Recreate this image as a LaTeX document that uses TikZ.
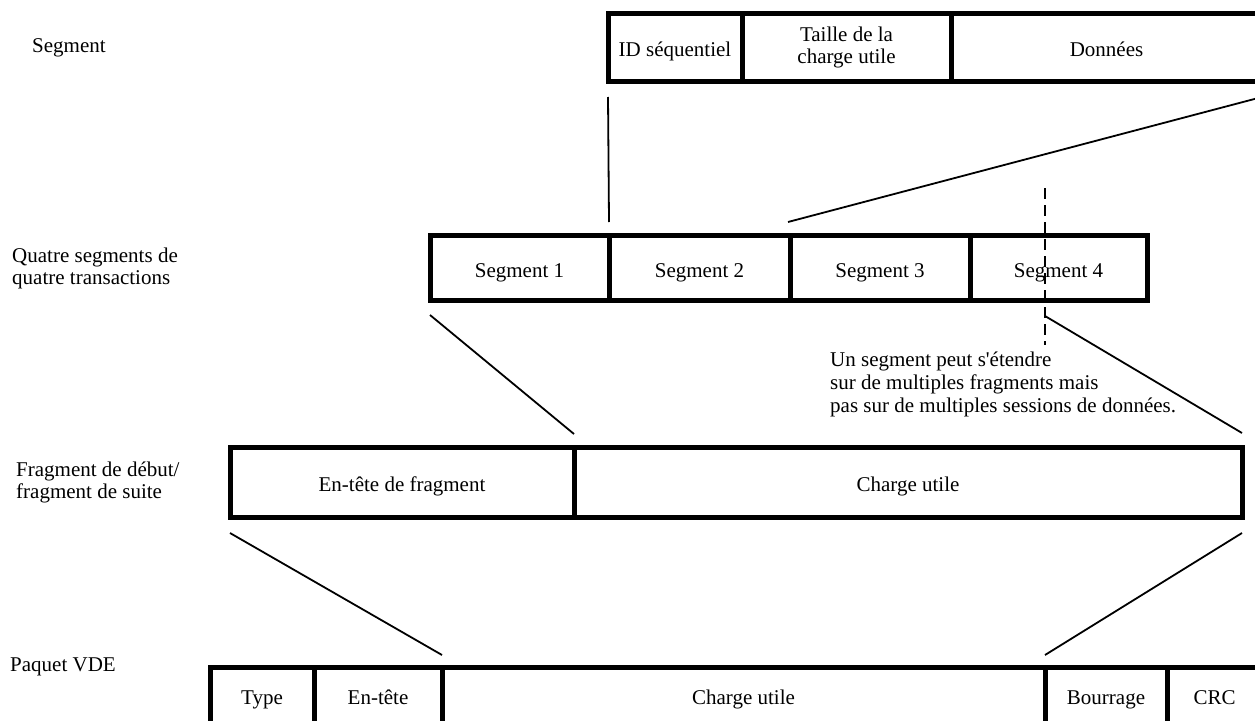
\documentclass[tikz,border=0pt]{standalone}
\usepackage{fontspec}
\setmainfont{Liberation Serif}
\newfontfamily\notefont{Liberation Serif}
\usepackage{tikz}
\usetikzlibrary{positioning}

\begin{document}
\begin{tikzpicture}[x=1pt,y=-1pt,
  cellbox/.style={draw, line width=5pt, rectangle, outer sep=0pt, inner sep=0pt,
    align=center, font=\fontsize{21}{22}\selectfont},
  cell/.style={cellbox, text height=21pt, text depth=2pt},
  link/.style={line width=1.8pt},
  rowlabel/.style={align=left, inner sep=0pt, font=\fontsize{21}{22}\selectfont}]
\useasboundingbox (0,0) rectangle (1255,720);

% Segment
\node[cell, anchor=north west, minimum width=134pt, minimum height=68pt] (segid) at (608,13) {ID séquentiel};
\node[cellbox, right=0pt of segid, minimum width=209pt, minimum height=68pt] (segsize) {Taille de la\\charge utile};
\node[cell, right=0pt of segsize, minimum width=311pt, minimum height=68pt] (segdata) {Données};

% quatre segments
\node[cell, anchor=north west, minimum width=179pt, minimum height=65pt] (seg1) at (430,235) {Segment 1};
\node[cell, right=0pt of seg1, minimum width=181pt, minimum height=65pt] (seg2) {Segment 2};
\node[cell, right=0pt of seg2, minimum width=180pt, minimum height=65pt] (seg3) {Segment 3};
\node[cell, right=0pt of seg3, minimum width=177pt, minimum height=65pt] (seg4) {Segment 4};

% fragment
\node[cell, anchor=north west, minimum width=344pt, minimum height=70pt] (fraghead) at (230,447) {En-tête de fragment};
\node[cell, right=0pt of fraghead, minimum width=668pt, minimum height=70pt] (fragload) {Charge utile};

% paquet VDE
\node[cell, anchor=north west, minimum width=104pt, minimum height=56pt] (pkttype) at (210,667) {Type};
\node[cell, right=0pt of pkttype, minimum width=128pt, minimum height=56pt] (pkthead) {En-tête};
\node[cell, right=0pt of pkthead, minimum width=603pt, minimum height=56pt] (pktload) {Charge utile};
\node[cell, right=0pt of pktload, minimum width=122pt, minimum height=56pt] (pktpad) {Bourrage};
\node[cell, right=0pt of pktpad, minimum width=95pt, minimum height=56pt] (pktcrc) {CRC};

% row labels
\node[rowlabel, anchor=base west] (lblseg) at (32,52) {Segment};
\node[rowlabel, anchor=north west] (lblquatre) at (12,247.5) {Quatre segments de\\quatre transactions};
\node[rowlabel, anchor=north west] (lblfrag) at (16,461.5) {Fragment de début/\\fragment de suite};
\node[rowlabel, anchor=base west] (lblpkt) at (10,671) {Paquet VDE};

% zoom lines
\draw[link] ([yshift=-16pt]segid.south west) -- ([yshift=13pt]seg2.north west);
\draw[link] ([yshift=-16pt]segdata.south east) -- ([xshift=-2pt,yshift=13pt]seg3.north west);
\draw[link] ([yshift=-15pt]seg1.south west) -- ([yshift=13pt]fraghead.north east);
\draw[link] ([xshift=75pt,yshift=-16pt]seg4.south west) -- ([yshift=14pt]fragload.north east);
\draw[link] ([yshift=-16pt]fraghead.south west) -- ([yshift=12pt]pkthead.north east);
\draw[link] ([yshift=-16pt]fragload.south east) -- ([yshift=12pt]pktpad.north west);

% coupure du segment 4
\coordinate (splittop) at ([xshift=75pt,yshift=47pt]seg4.north west);
\coordinate (splitbot) at ([xshift=75pt,yshift=-45pt]seg4.south west);
\draw[line width=2.4pt, dash pattern=on 11pt off 6pt] (splittop) -- (splitbot);

\node[rowlabel, anchor=north west, font=\notefont\fontsize{21}{23}\selectfont] (note) at (830,351.5)
  {Un segment peut s'étendre\\sur de multiples fragments mais\\pas sur de multiples sessions de données.};
\end{tikzpicture}
\end{document}
